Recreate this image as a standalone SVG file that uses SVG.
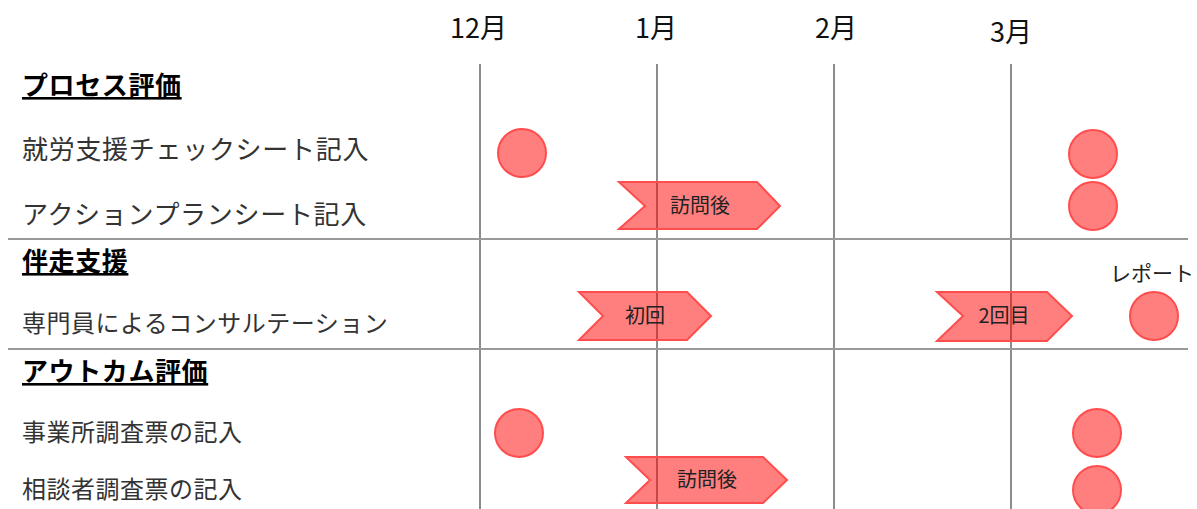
<svg xmlns="http://www.w3.org/2000/svg" width="1197" height="509" viewBox="0 0 1197 509">
<style>
.grid{stroke:#8c8c8c;stroke-width:2;fill:none}
.hgrid{stroke:#999;stroke-width:2;fill:none}
.mon{font-family:"Noto Sans CJK JP","Noto Sans",sans-serif;font-size:27px;fill:#111}
.head{font-family:"Noto Sans CJK JP",sans-serif;font-size:26px;font-weight:bold;fill:#000;text-decoration:underline;letter-spacing:0.6px}
.row1{font-family:"Noto Sans CJK JP",sans-serif;font-size:26px;fill:#333;letter-spacing:0.7px}
.row2{font-family:"Noto Sans CJK JP",sans-serif;font-size:24px;fill:#333;letter-spacing:0.5px}
.mark{fill:#ff0000;fill-opacity:0.5;stroke:#ff4d4d;stroke-width:2}
.lbl{font-family:"Noto Sans CJK JP",sans-serif;font-size:20px;fill:#222;text-anchor:middle}
.rep{font-family:"Noto Sans CJK JP",sans-serif;font-size:21px;fill:#222}
</style>
<rect width="1197" height="509" fill="#fff"/>
<g id="connectors">
<line class="grid" x1="480" y1="64" x2="480" y2="509"/>
<line class="grid" x1="657" y1="64" x2="657" y2="509"/>
<line class="grid" x1="834" y1="64" x2="834" y2="509"/>
<line class="grid" x1="1011" y1="64" x2="1011" y2="509"/>
<line class="hgrid" x1="8" y1="239" x2="1188" y2="239"/>
<line class="hgrid" x1="8" y1="349" x2="1188" y2="349"/>
</g>
<g id="months">
<text class="mon" x="450" y="38">12月</text>
<text class="mon" x="635" y="38">1月</text>
<text class="mon" x="815" y="38">2月</text>
<text class="mon" x="990" y="42">3月</text>
</g>
<g id="labels">
<text class="head" x="22" y="95">プロセス評価</text>
<text class="row1" x="22" y="159">就労支援チェックシート記入</text>
<text class="row1" x="22" y="224">アクションプランシート記入</text>
<text class="head" x="22" y="271">伴走支援</text>
<text class="row2" x="22" y="332">専門員によるコンサルテーション</text>
<text class="head" x="22" y="381">アウトカム評価</text>
<text class="row2" x="22" y="441">事業所調査票の記入</text>
<text class="row2" x="22" y="498">相談者調査票の記入</text>
</g>
<g id="c1"><circle class="mark" cx="522" cy="153" r="24"/></g>
<g id="c2"><circle class="mark" cx="1093" cy="154" r="24"/></g>
<g id="c3"><circle class="mark" cx="1093" cy="206" r="24"/></g>
<g id="chev1"><polygon class="mark" points="619,182 757,182 780,206 757,229 619,229 645,206"/><text class="lbl" x="700" y="213">訪問後</text></g>
<g id="chev2"><polygon class="mark" points="579,292 687,292 711,316 687,340 579,340 603,316"/><text class="lbl" x="645" y="323">初回</text></g>
<g id="chev3"><polygon class="mark" points="937,292 1047,292 1072,316 1047,341 937,341 963,316"/><text class="lbl" x="1004" y="323">2回目</text></g>
<g id="report"><text class="rep" x="1110" y="281">レポート</text><circle class="mark" cx="1154" cy="316" r="24"/></g>
<g id="c4"><circle class="mark" cx="519" cy="433" r="24"/></g>
<g id="c5"><circle class="mark" cx="1097" cy="433" r="24"/></g>
<g id="chev4"><polygon class="mark" points="626,457 763,457 787,480 763,503 626,503 650,480"/><text class="lbl" x="707" y="487">訪問後</text></g>
<g id="c6"><circle class="mark" cx="1097" cy="490" r="24"/></g>
</svg>
